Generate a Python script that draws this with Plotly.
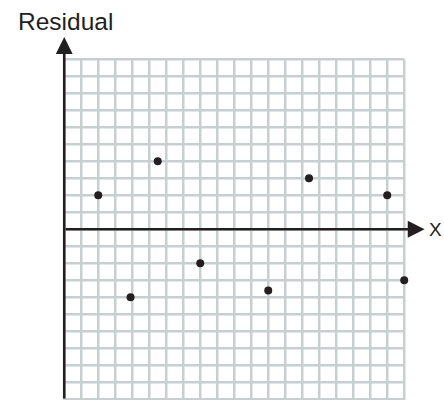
import plotly.graph_objects as go

# Data (grid units)
res_x = [2, 3.9, 5.5, 8, 12, 14.4, 19, 20]
res_y = [2, -4, 4, -2, -3.6, 3, 2, -3]

# Grid extents
grid_x_min, grid_x_max = 0, 20
grid_y_min, grid_y_max = -10, 10

W, H = 444, 400
x_range = [-3.78, 22.34]
y_range = [-10.04, 13.49]

ink = "#231f20"
grid_color = "#c8cfcf"

fig = go.Figure()
fig.add_trace(go.Scatter(
    x=res_x, y=res_y, mode="markers",
    marker=dict(size=8, color=ink, line=dict(width=0)),
    hoverinfo="skip", showlegend=False,
))

shapes = []
for gx in range(grid_x_min, grid_x_max + 1):
    shapes.append(dict(type="line", xref="x", yref="y", x0=gx, x1=gx,
                       y0=y_range[0], y1=grid_y_max,
                       line=dict(color=grid_color, width=2.5), layer="below"))
for gy in range(grid_y_min, grid_y_max + 1):
    shapes.append(dict(type="line", xref="x", yref="y", x0=grid_x_min, x1=grid_x_max,
                       y0=gy, y1=gy,
                       line=dict(color=grid_color, width=2.5), layer="below"))

annotations = [
    # y axis arrow
    dict(x=0, y=11.31, ax=0, ay=y_range[0], xref="x", yref="y", axref="x", ayref="y",
         showarrow=True, arrowhead=2, arrowsize=1.3, arrowwidth=2.6, arrowcolor=ink,
         text="", standoff=0, startstandoff=0),
    # x axis arrow
    dict(x=21.2, y=0, ax=0, ay=0, xref="x", yref="y", axref="x", ayref="y",
         showarrow=True, arrowhead=2, arrowsize=1.3, arrowwidth=2.6, arrowcolor=ink,
         text="", standoff=0, startstandoff=0),
    dict(text="Residual", xref="paper", yref="paper", x=16 / W, y=1 - 21.5 / H,
         xanchor="left", yanchor="middle", showarrow=False,
         font=dict(family="Liberation Sans, Arial, sans-serif", size=24.5, color=ink)),
    dict(text="X", xref="paper", yref="paper", x=427 / W, y=1 - 230 / H,
         xanchor="left", yanchor="middle", showarrow=False,
         font=dict(family="Liberation Sans, Arial, sans-serif", size=19, color=ink)),
]

fig.update_layout(
    width=W, height=H, autosize=False,
    margin=dict(l=0, r=0, t=0, b=0, pad=0),
    paper_bgcolor="white", plot_bgcolor="white",
    xaxis=dict(range=x_range, visible=False, fixedrange=True),
    yaxis=dict(range=y_range, visible=False, fixedrange=True),
    shapes=shapes, annotations=annotations,
)

fig.write_html(
    "out.html",
    config={"displayModeBar": False},
    post_script="document.body.style.margin='0';document.body.style.overflow='hidden';",
)
